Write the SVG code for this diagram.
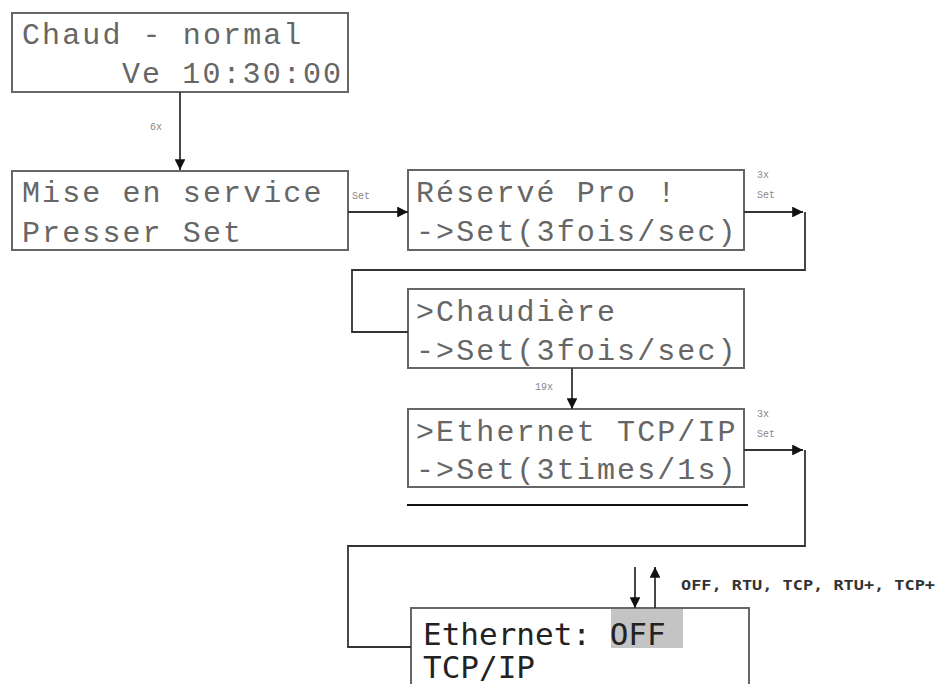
<svg xmlns="http://www.w3.org/2000/svg" width="937" height="684" viewBox="0 0 937 684">
<style>
.box{fill:#fff;stroke:#666;stroke-width:2}
.lcd{font-family:"Liberation Mono","Courier New",monospace;font-size:30px;letter-spacing:2.1px;fill:#666}
.lbl{font-family:"Liberation Mono","Courier New",monospace;font-size:10px;fill:#888}
.con{fill:none;stroke:#333;stroke-width:1.8}
.sans{font-family:"DejaVu Sans Mono",monospace;font-size:31px;fill:#222}
.opt{font-family:"DejaVu Sans Mono",monospace;font-size:14px;font-weight:bold;fill:#333}
</style>
<defs>
<marker id="ah" viewBox="0 0 10 10" refX="10" refY="5" markerWidth="6" markerHeight="6" orient="auto" markerUnits="strokeWidth">
<path d="M0,0 L10,5 L0,10 z" fill="#111"/>
</marker>
</defs>
<rect width="937" height="684" fill="#fff"/>

<g id="node-chaud">
<rect class="box" x="12" y="13" width="336" height="79"/>
<text class="lcd" x="22" y="44">Chaud - normal</text>
<text class="lcd" x="122" y="83">Ve 10:30:00</text>
</g>

<g id="node-mise">
<rect class="box" x="12" y="171" width="336" height="79"/>
<text class="lcd" x="22" y="202">Mise en service</text>
<text class="lcd" x="22" y="242">Presser Set</text>
</g>

<g id="node-reserve">
<rect class="box" x="408" y="170" width="336" height="80"/>
<text class="lcd" x="416" y="202">Réservé Pro !</text>
<text class="lcd" x="416" y="241">-&gt;Set(3fois/sec)</text>
</g>

<g id="node-chaudiere">
<rect class="box" x="408" y="289" width="336" height="79"/>
<text class="lcd" x="416" y="321">&gt;Chaudière</text>
<text class="lcd" x="416" y="360">-&gt;Set(3fois/sec)</text>
</g>

<g id="node-ethernet-menu">
<rect class="box" x="408" y="409" width="336" height="78"/>
<text class="lcd" x="416" y="441">&gt;Ethernet TCP/IP</text>
<text class="lcd" x="416" y="479">-&gt;Set(3times/1s)</text>
</g>

<line x1="407" y1="505" x2="748" y2="505" stroke="#111" stroke-width="2"/>

<g id="node-ethernet-off">
<rect class="box" x="411" y="608" width="338" height="100"/>
<rect x="611" y="609" width="72" height="39" fill="#c4c4c4"/>
<text class="sans" x="423" y="645">Ethernet: OFF</text>
<text class="sans" x="423" y="678">TCP/IP</text>
</g>

<g id="connectors">
<line class="con" x1="180" y1="92" x2="180" y2="170" marker-end="url(#ah)"/>
<text class="lbl" x="150" y="130">6x</text>

<line class="con" x1="348" y1="212" x2="408" y2="212" marker-end="url(#ah)"/>
<text class="lbl" x="352" y="199">Set</text>

<line class="con" x1="744" y1="212" x2="803" y2="212" marker-end="url(#ah)"/>
<polyline class="con" points="805,212 805,270 352,270 352,332 408,332"/>
<text class="lbl" x="757" y="178">3x</text>
<text class="lbl" x="757" y="198">Set</text>

<line class="con" x1="572" y1="368" x2="572" y2="409" marker-end="url(#ah)"/>
<text class="lbl" x="535" y="390">19x</text>

<line class="con" x1="744" y1="450" x2="803" y2="450" marker-end="url(#ah)"/>
<polyline class="con" points="805,450 805,546 348,546 348,647 411,647"/>
<text class="lbl" x="757" y="417">3x</text>
<text class="lbl" x="757" y="437">Set</text>

<line class="con" x1="635" y1="567" x2="635" y2="608" marker-end="url(#ah)"/>
<line class="con" x1="655" y1="608" x2="655" y2="567" marker-end="url(#ah)"/>
<text class="opt" x="681" y="590" textLength="254" lengthAdjust="spacingAndGlyphs">OFF, RTU, TCP, RTU+, TCP+</text>
</g>
</svg>
